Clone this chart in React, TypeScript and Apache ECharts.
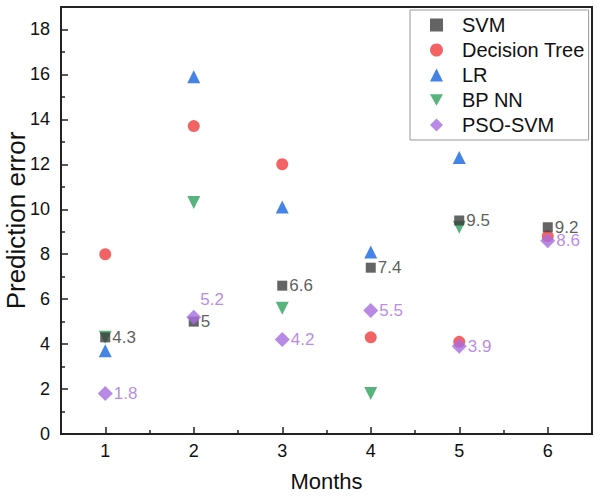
import React, { useEffect, useRef } from "react";
import * as echarts from "echarts";

const months = [1, 2, 3, 4, 5, 6];
const svm = [4.3, 5.0, 6.6, 7.4, 9.5, 9.2];
const decisionTree = [8.0, 13.7, 12.0, 4.3, 4.1, 8.8];
const lr = [3.7, 15.9, 10.1, 8.1, 12.3, null];
const bpnn = [4.3, 10.3, 5.6, 1.8, 9.2, null];
const psoSvm = [1.8, 5.2, 4.2, 5.5, 3.9, 8.6];
const yMajorTicks = [0, 2, 4, 6, 8, 10, 12, 14, 16, 18];
const yMinorTicks = [1, 3, 5, 7, 9, 11, 13, 15, 17];
const xMinorTicks = [1.5, 2.5, 3.5, 4.5, 5.5];

const FONT = "Liberation Sans, Arial, sans-serif";
const DOWN_TRIANGLE = "path://M0,0 L10,0 L5,9 Z";

function pairs(vals: (number | null)[]) {
  const out: any[] = [];
  vals.forEach((v, i) => {
    if (v !== null) out.push([months[i], v]);
  });
  return out;
}

export default function App() {
  const ref = useRef<HTMLDivElement>(null);
  useEffect(() => {
    document.body.style.margin = "0";
    const chart = echarts.init(ref.current!, null, { renderer: "svg" });
    const axisLine = { show: true, lineStyle: { color: "#222", width: 2 } };
    chart.setOption({
      animation: false,
      backgroundColor: "#fff",
      textStyle: { fontFamily: FONT },
      grid: {
        left: 61,
        right: 8,
        top: 7,
        bottom: 65,
        containLabel: false,
        outerBoundsMode: "none",
        show: true,
        borderColor: "#222",
        borderWidth: 2,
      },
      legend: {
        orient: "vertical",
        left: 410,
        top: 10,
        padding: [5, 4, 5, 20],
        itemWidth: 13,
        itemHeight: 13,
        itemGap: 5,
        borderColor: "#999",
        borderWidth: 1,
        textStyle: {
          fontSize: 20,
          lineHeight: 20,
          color: "#111",
          fontFamily: FONT,
          padding: [0, 0, 0, 14],
        },
        data: [
          { name: "SVM" },
          { name: "Decision Tree" },
          { name: "LR" },
          { name: "BP NN", icon: DOWN_TRIANGLE },
          { name: "PSO-SVM" },
        ],
      },
      xAxis: [
        {
          type: "value",
          min: 0.5,
          max: 6.5,
          name: "Months",
          nameLocation: "middle",
          nameGap: 36,
          nameMoveOverlap: false,
          nameTextStyle: { fontSize: 22, color: "#111", fontFamily: FONT },
          axisLine,
          splitLine: { show: false },
          axisTick: {
            show: true,
            inside: true,
            length: 7,
            lineStyle: { color: "#222", width: 1.5 },
            customValues: months,
          },
          axisLabel: {
            customValues: months,
            fontSize: 18,
            color: "#111",
            margin: 8,
            fontFamily: FONT,
          },
        },
        {
          type: "value",
          min: 0.5,
          max: 6.5,
          position: "bottom",
          axisLine: { show: false },
          splitLine: { show: false },
          axisTick: {
            show: true,
            inside: true,
            length: 4,
            lineStyle: { color: "#222", width: 1.5 },
            customValues: xMinorTicks,
          },
          axisLabel: { show: false },
        },
      ],
      yAxis: [
        {
          type: "value",
          min: 0,
          max: 19,
          name: "Prediction error",
          nameLocation: "middle",
          nameGap: 32,
          nameMoveOverlap: false,
          nameTextStyle: { fontSize: 26, color: "#111", fontFamily: FONT },
          axisLine,
          splitLine: { show: false },
          axisTick: {
            show: true,
            inside: true,
            length: 7,
            lineStyle: { color: "#222", width: 1.5 },
            customValues: yMajorTicks,
          },
          axisLabel: {
            customValues: yMajorTicks,
            fontSize: 18,
            color: "#111",
            margin: 11,
            fontFamily: FONT,
          },
        },
        {
          type: "value",
          min: 0,
          max: 19,
          position: "left",
          axisLine: { show: false },
          splitLine: { show: false },
          axisTick: {
            show: true,
            inside: true,
            length: 4,
            lineStyle: { color: "#222", width: 1.5 },
            customValues: yMinorTicks,
          },
          axisLabel: { show: false },
        },
      ],
      series: [
        {
          name: "Decision Tree",
          type: "scatter",
          symbol: "circle",
          symbolSize: 12,
          itemStyle: { color: "#F03C3C" },
          data: pairs(decisionTree),
          z: 2,
        },
        {
          name: "LR",
          type: "scatter",
          symbol: "triangle",
          symbolSize: 13,
          itemStyle: { color: "#1565E0" },
          data: pairs(lr),
          z: 2,
        },
        {
          name: "BP NN",
          type: "scatter",
          symbol: "triangle",
          symbolRotate: 180,
          symbolSize: 13,
          itemStyle: { color: "#2EA05E" },
          data: pairs(bpnn),
          z: 2,
        },
        {
          name: "SVM",
          type: "scatter",
          symbol: "rect",
          symbolSize: 10,
          itemStyle: { color: "#3D3D3D" },
          data: pairs(svm),
          z: 3,
          label: {
            show: true,
            position: "right",
            distance: 2,
            color: "#333",
            fontSize: 17,
            fontFamily: FONT,
            formatter: (p: any) => String(p.value[1]),
          },
        },
        {
          name: "PSO-SVM",
          type: "scatter",
          symbol: "diamond",
          symbolSize: 15,
          itemStyle: { color: "#A86CE0" },
          data: pairs(psoSvm).map((d, i) =>
            i === 1
              ? { value: d, label: { offset: [-2, -18] } }
              : { value: d }
          ),
          z: 4,
          label: {
            show: true,
            position: "right",
            distance: 1,
            color: "#A86CE0",
            fontSize: 17,
            fontFamily: FONT,
            formatter: (p: any) => String(p.value[1]),
          },
        },
      ],
    });
    return () => chart.dispose();
  }, []);
  return <div ref={ref} style={{ width: 600, height: 499 }} />;
}
